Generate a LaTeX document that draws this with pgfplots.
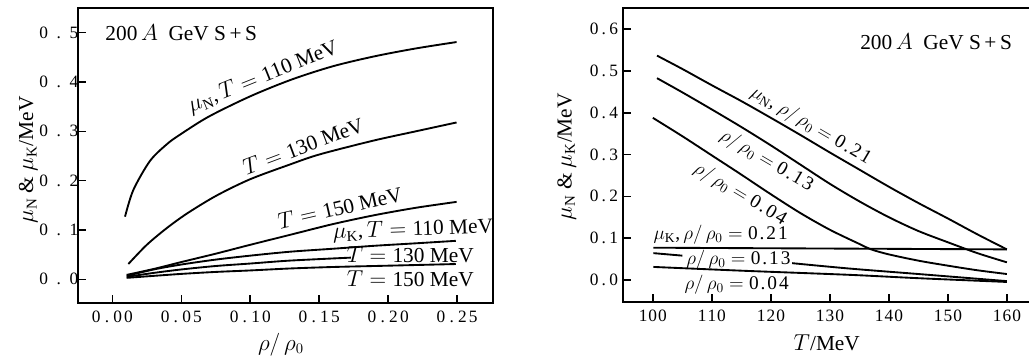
\documentclass[border=0pt]{standalone}
\usepackage{fontspec}
\setmainfont{Liberation Serif}
\newfontfamily\spfam[LetterSpace=10]{Liberation Serif}
\usepackage{pgfplots}
\pgfplotsset{compat=1.18}
\newcommand{\lbl}{\fontsize{16}{18}\selectfont}
\newcommand{\rlbl}{\fontsize{14.5}{17}\selectfont}
\newcommand{\tk}{\fontsize{13}{15}\selectfont}
\newcommand{\num}[1]{\mbox{\spfam #1}}
% spaced tick labels
\newcommand{\ly}[1]{0\hspace{6.5pt}.\hspace{6.5pt}#1}
\newcommand{\lx}[2]{0\hspace{3.2pt}.\hspace{3.2pt}#1\hspace{1.6pt}#2}
\newcommand{\ry}[1]{0\hspace{2.4pt}.\hspace{2.4pt}#1}
\newcommand{\rx}[3]{#1\hspace{0.8pt}#2\hspace{0.8pt}#3}
\pgfplotsset{
  common/.style={
    scale only axis,
    anchor=south west,
    every axis/.append style={line width=1.4pt},
    axis line style={line width=1.4pt},
    xtick pos=left, ytick pos=left,
    tick align=inside,
    major tick length=6pt,
    major tick style={line width=1.2pt, black},
    cycle list={{black, solid, line width=1.4pt}},
    every axis plot/.append style={line width=1.4pt, black, no markers, smooth},
    clip=false,
  }
}
\begin{document}
\begin{tikzpicture}
\useasboundingbox (0,0) rectangle (771.75pt,268.5pt);
% ---------------- left panel ----------------
\begin{axis}[common,
  at={(58.5pt,41.25pt)}, width=311.25pt, height=221.25pt,
  xmin=-0.0249, xmax=0.276, ymin=-0.048, ymax=0.550,
  xtick={0,0.05,0.10,0.15,0.20,0.25},
  xticklabels={\lx00,\lx05,\lx10,\lx15,\lx20,\lx25},
  ytick={0,0.1,0.2,0.3,0.4,0.5},
  yticklabels={\ly0,\ly1,\ly2,\ly3,\ly4,\ly5},
  xticklabel style={font=\tk, yshift=-2pt},
  yticklabel style={font=\tk, inner xsep=0pt, xshift=1pt},
  xlabel={$\rho/\,\rho_0$},
  ylabel={$\mu_{\mathrm{N}}$ \& $\mu_{\mathrm{K}}$/MeV},
  xlabel style={at={(axis description cs:0.489,-0.140)}, anchor=center, font=\lbl},
  ylabel style={at={(axis description cs:-0.120,0.485)}, anchor=center, font=\lbl},
]
% mu_N
\addplot coordinates {(0.0092,0.127)(0.0152,0.181)(0.0273,0.240)(0.04,0.275)(0.05,0.295)(0.07,0.330)(0.10,0.371)(0.13,0.405)(0.16,0.432)(0.19,0.452)(0.22,0.468)(0.2496,0.481)};
\addplot coordinates {(0.0116,0.031)(0.025,0.070)(0.04,0.105)(0.055,0.135)(0.0757,0.170)(0.10,0.203)(0.129,0.233)(0.15,0.253)(0.189,0.281)(0.22,0.300)(0.2496,0.318)};
\addplot coordinates {(0.0104,0.009)(0.03,0.021)(0.05,0.035)(0.075,0.052)(0.10,0.070)(0.13,0.091)(0.16,0.112)(0.19,0.130)(0.22,0.145)(0.2496,0.157)};
% mu_K
\addplot coordinates {(0.0104,0.007)(0.03,0.020)(0.05,0.030)(0.075,0.040)(0.10,0.048)(0.129,0.056)(0.16,0.062)(0.19,0.068)(0.22,0.073)(0.249,0.078)};
\addplot coordinates {(0.0104,0.005)(0.03,0.013)(0.05,0.020)(0.075,0.027)(0.10,0.032)(0.129,0.038)(0.173,0.044)};
\addplot coordinates {(0.0104,0.003)(0.03,0.007)(0.05,0.011)(0.075,0.015)(0.10,0.018)(0.129,0.022)(0.16,0.025)(0.19,0.027)(0.22,0.029)(0.249,0.031)};
% labels
\node[anchor=west, font=\lbl] at (axis cs:-0.0089,0.499) {200\,$A$\ \ GeV\ S\,+\,S};
\node[font=\lbl, rotate=22] at (axis cs:0.1094,0.410) {$\mu_{\mathrm{N}}$,\,$T=\mbox{110}$~MeV};
\node[font=\lbl, rotate=20.5] at (axis cs:0.1384,0.271) {$T=\mbox{130}$~MeV};
\node[font=\lbl, rotate=13] at (axis cs:0.165,0.146) {$T=\mbox{150}$~MeV};
\node[font=\lbl, rotate=2] at (axis cs:0.218,0.100) {$\mu_{\mathrm{K}}$,\,$T=\mbox{110}$~MeV};
\node[font=\lbl] at (axis cs:0.216,0.049) {$T=\mbox{130}$~MeV};
\node[font=\lbl] at (axis cs:0.216,0.002) {$T=\mbox{150}$~MeV};
\end{axis}
% ---------------- right panel ----------------
\begin{axis}[common,
  at={(467.5pt,42pt)}, width=305.8pt, height=220.5pt,
  xmin=95, xmax=164.1, ymin=-0.053, ymax=0.651,
  xtick={100,110,...,160},
  xticklabels={\rx100,\rx110,\rx120,\rx130,\rx140,\rx150,\rx160},
  ytick={0,0.1,0.2,0.3,0.4,0.5,0.6},
  yticklabels={\ry0,\ry1,\ry2,\ry3,\ry4,\ry5,\ry6},
  xticklabel style={font=\tk, yshift=-2pt},
  yticklabel style={font=\tk},
  xlabel={$T$/MeV},
  ylabel={$\mu_{\mathrm{N}}$ \& $\mu_{\mathrm{K}}$/MeV},
  xlabel style={at={(axis description cs:0.499,-0.140)}, anchor=center, font=\lbl},
  ylabel style={at={(axis description cs:-0.139,0.494)}, anchor=center, font=\lbl},
]
% mu_N
\addplot coordinates {(100.7,0.537)(105,0.505)(110,0.466)(115,0.428)(120,0.388)(125,0.347)(130,0.305)(135,0.264)(140,0.223)(145,0.184)(150,0.147)(155,0.109)(160,0.073)};
\addplot coordinates {(100.7,0.483)(105,0.449)(110,0.408)(115,0.366)(120,0.322)(125,0.276)(130,0.230)(135,0.188)(140,0.150)(145,0.117)(150,0.090)(155,0.064)(160,0.042)};
\addplot coordinates {(100,0.388)(105,0.344)(110,0.298)(115,0.252)(120,0.205)(125,0.160)(130,0.120)(135,0.086)(137,0.073)(140,0.061)(145,0.046)(150,0.034)(155,0.023)(160,0.014)};
% mu_K
\addplot coordinates {(100.1,0.077)(130,0.075)(160,0.073)};
\addplot coordinates {(100.1,0.064)(105,0.058)};
\addplot coordinates {(123.6,0.040)(133.4,0.027)(145,0.014)(160,-0.003)};
\addplot coordinates {(100.1,0.031)(115,0.022)(133.4,0.012)(145,0.004)(160,-0.005)};
% labels
\node[font=\lbl] at (axis cs:148.0,0.570) {200\,$A$\ \ GeV\ S\,+\,S};
\node[font=\rlbl, rotate=-30.5] at (axis cs:126.8,0.369) {$\mu_{\mathrm{N}}$,\;$\rho/\,\rho_0=\num{0.21}$};
\node[font=\rlbl, rotate=-30.5] at (axis cs:119.3,0.285) {$\rho/\,\rho_0=\num{0.13}$};
\node[font=\rlbl, rotate=-31] at (axis cs:114.8,0.205) {$\rho/\,\rho_0=\num{0.04}$};
\node[font=\rlbl] at (axis cs:111.5,0.108) {$\mu_{\mathrm{K}}$,\,$\rho/\,\rho_0=\num{0.21}$};
\node[font=\rlbl] at (axis cs:114.5,0.048) {$\rho/\,\rho_0=\num{0.13}$};
\node[font=\rlbl] at (axis cs:114.2,-0.012) {$\rho/\,\rho_0=\num{0.04}$};
\end{axis}
\end{tikzpicture}
\end{document}
